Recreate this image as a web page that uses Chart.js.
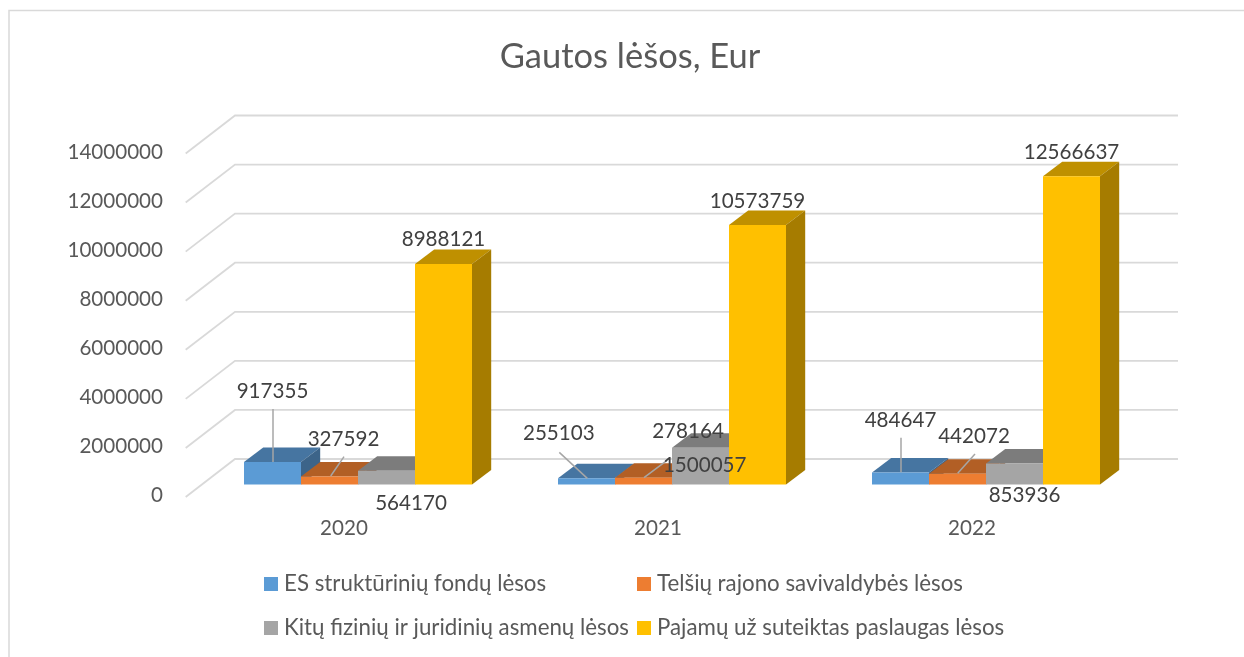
<!DOCTYPE html>
<html lang="lt">
<head>
<meta charset="utf-8">
<title>Gautos lėšos, Eur</title>
<script src="https://cdn.jsdelivr.net/npm/chart.js@4"></script>
<style>
html,body{margin:0;padding:0;background:#fff;overflow:hidden}
#wrap{position:relative;width:1244px;height:657px}
</style>
</head>
<body>
<div id="wrap"><canvas id="c" width="1244" height="657"></canvas></div>
<script>
const titleText = "Gautos lėšos, Eur";
const categories = ["2020", "2021", "2022"];
const seriesNames = ["ES struktūrinių fondų lėsos", "Telšių rajono savivaldybės lėsos", "Kitų fizinių ir juridinių asmenų lėsos", "Pajamų už suteiktas paslaugas lėsos"];
const esFunds = [917355, 255103, 484647];
const municipality = [327592, 278164, 442072];
const otherPersons = [564170, 1500057, 853936];
const serviceIncome = [8988121, 10573759, 12566637];

const FONT = "Lato, Carlito, sans-serif";
const frontColors = ["#5B9BD5", "#ED7D31", "#A5A5A5", "#FFC000"];
const topColors = ["#4675A1", "#B25F25", "#7C7C7C", "#BF9000"];
const sideColors = ["#3C6489", "#99511F", "#6A6A6A", "#A67C00"];
const DEPTH = {x: 19.2, y: 14.5};

// label centre offsets from each bar's top centre: [series][category] = [dx, dy]
const labelOffsets = [
  [[0, -70.5], [-27.7, -44.4], [0, -51.8]],
  [[14, -36.7], [44.5, -45.9], [16.5, -37.2]],
  [[24.5, 32.8], [4.2, 18.1], [10, 32.3]],
  [[0, -25.1], [0, -24.2], [0, -23.6]]
];
// leader lines, offsets from bar top centre: [x1, y1, x2, y2]
const leaderOffsets = [
  [[0.5, -53, 0.5, 0], [-27.2, -25.9, 0.8, 0.1], [0.5, -34.9, 0.5, -0.3]],
  [[14.5, -19.8, 1.2, -0.5], [23.2, -17, 0.5, 0], [17.5, -19.7, 0.2, -0.4]],
  [null, null, null],
  [null, null, null]
];

const threeD = {
  id: "threeD",
  afterLayout(chart) {
    // the title is centred on the whole picture frame, not on the plot
    chart.titleBlock.left = 16;
    chart.titleBlock.right = 1244;
  },
  beforeDraw(chart) {
    const ctx = chart.ctx;
    ctx.save();
    ctx.fillStyle = "#fff";
    ctx.fillRect(0, 0, chart.width, chart.height);
    // frame
    ctx.strokeStyle = "#D9D9D9";
    ctx.lineWidth = 1.5;
    ctx.beginPath();
    ctx.moveTo(9, 657); ctx.lineTo(9, 10.5); ctx.lineTo(1244, 10.5);
    ctx.stroke();
    ctx.restore();
  },
  beforeDatasetsDraw(chart) {
    const ctx = chart.ctx, y = chart.scales.y, area = chart.chartArea;
    ctx.save();
    ctx.strokeStyle = "#D9D9D9";
    ctx.lineWidth = 1.8;
    y.ticks.forEach(t => {
      const py = y.getPixelForValue(t.value);
      ctx.beginPath();
      ctx.moveTo(area.left - 15.3, py + 12.5);
      ctx.lineTo(area.left + 34, py - 25.5);
      ctx.lineTo(area.right + 35, py - 25.5);
      ctx.stroke();
    });
    chart.data.datasets.forEach((ds, si) => {
      const meta = chart.getDatasetMeta(si);
      meta.data.forEach(bar => {
        const p = bar.getProps(["x", "y", "base", "width"], true);
        const l = p.x - p.width / 2, r = p.x + p.width / 2;
        // top
        ctx.fillStyle = topColors[si];
        ctx.beginPath();
        ctx.moveTo(l, p.y); ctx.lineTo(l + DEPTH.x, p.y - DEPTH.y);
        ctx.lineTo(r + DEPTH.x, p.y - DEPTH.y); ctx.lineTo(r, p.y);
        ctx.closePath(); ctx.fill();
        // side
        ctx.fillStyle = sideColors[si];
        ctx.beginPath();
        ctx.moveTo(r, p.y); ctx.lineTo(r + DEPTH.x, p.y - DEPTH.y);
        ctx.lineTo(r + DEPTH.x, p.base - DEPTH.y); ctx.lineTo(r, p.base);
        ctx.closePath(); ctx.fill();
      });
      meta.controller.draw();
    });
    ctx.restore();
    return false;
  },
  afterDraw(chart) {
    const ctx = chart.ctx;
    ctx.save();
    // leader lines
    ctx.strokeStyle = "#A6A6A6";
    ctx.lineWidth = 1.5;
    chart.data.datasets.forEach((ds, si) => {
      chart.getDatasetMeta(si).data.forEach((bar, ci) => {
        const o = leaderOffsets[si][ci];
        if (!o) return;
        ctx.beginPath();
        ctx.moveTo(bar.x + o[0], bar.y + o[1]);
        ctx.lineTo(bar.x + o[2], bar.y + o[3]);
        ctx.stroke();
      });
    });
    // data labels
    ctx.font = "20.6px " + FONT;
    ctx.fillStyle = "#404040";
    ctx.textAlign = "center";
    ctx.textBaseline = "middle";
    chart.data.datasets.forEach((ds, si) => {
      chart.getDatasetMeta(si).data.forEach((bar, ci) => {
        const o = labelOffsets[si][ci];
        ctx.fillText(String(ds.data[ci]), bar.x + o[0], bar.y + o[1]);
      });
    });
    // legend, laid out in two aligned columns
    const cols = [264, 637], rows = [584, 628];
    ctx.font = "22.3px " + FONT;
    ctx.textAlign = "left";
    seriesNames.forEach((name, i) => {
      const cx = cols[i % 2], cy = rows[Math.floor(i / 2)];
      ctx.fillStyle = frontColors[i];
      ctx.fillRect(cx, cy - 7, 14, 14);
      ctx.fillStyle = "#595959";
      ctx.fillText(name, cx + 20, cy);
    });
    ctx.restore();
  }
};

const seriesValues = [esFunds, municipality, otherPersons, serviceIncome];

new Chart(document.getElementById("c"), {
  type: "bar",
  data: {
    labels: categories,
    datasets: seriesNames.map((name, i) => ({
      label: name,
      data: seriesValues[i],
      backgroundColor: frontColors[i],
      borderWidth: 0,
      categoryPercentage: 228 / 314,
      barPercentage: 1
    }))
  },
  options: {
    responsive: false,
    animation: false,
    events: [],
    layout: {padding: {left: 0, right: 101, top: 0, bottom: 0}},
    plugins: {
      legend: {display: false},
      tooltip: {enabled: false},
      title: {
        display: true,
        text: titleText,
        color: "#595959",
        font: {family: FONT, size: 34.5, weight: "normal", lineHeight: 1.2},
        padding: {top: 36, bottom: 63.6}
      }
    },
    scales: {
      x: {
        grid: {display: false},
        border: {display: false},
        ticks: {color: "#595959", font: {family: FONT, size: 20.6}, padding: 23, labelOffset: -14, maxRotation: 0},
        afterFit(s) { s.height = 172.5; }
      },
      y: {
        min: 0,
        max: 14000000,
        grid: {display: false},
        border: {display: false},
        ticks: {color: "#595959", font: {family: FONT, size: 20.6}, padding: 30, stepSize: 2000000, labelOffset: 11, callback: v => String(v)},
        afterFit(s) { s.width = 201; }
      }
    }
  },
  plugins: [threeD]
});
</script>
</body>
</html>
